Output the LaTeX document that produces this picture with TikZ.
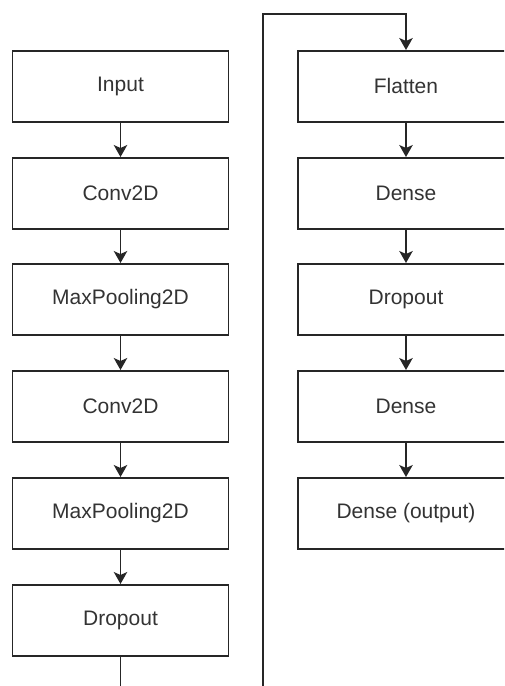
\documentclass[tikz,border=0pt]{standalone}
\usepackage{fontspec}
\setmainfont{Liberation Sans}
\usetikzlibrary{arrows.meta}
\begin{document}
\begin{tikzpicture}[x=1pt,y=-1pt,
  layer/.style={draw=black!85, line width=1.5pt, minimum width=216pt, minimum height=71pt,
    inner sep=0pt, anchor=north, font=\fontsize{21}{24}\selectfont, text=black!80},
  flow/.style={draw=black!85, line width=1.5pt,
    -{Stealth[length=12pt,width=13.5pt,inset=3pt]}}]
\useasboundingbox (0,0) rectangle (504,686);
\clip (0,0) rectangle (504,686);
% encoder column
\node[layer] (in)  at (120.5,50)  {Input};
\node[layer] (c1)  at (120.5,157) {Conv2D};
\node[layer] (p1)  at (120.5,263) {MaxPooling2D};
\node[layer] (c2)  at (120.5,370) {Conv2D};
\node[layer] (p2)  at (120.5,477) {MaxPooling2D};
\node[layer] (d1)  at (120.5,584) {Dropout};
% classifier column
\node[layer] (fl)  at (406,50)  {Flatten};
\node[layer] (de1) at (406,157) {Dense};
\node[layer] (d2)  at (406,263) {Dropout};
\node[layer] (de2) at (406,370) {Dense};
\node[layer] (out) at (406,477) {Dense (output)};
% routing points for the wrap-around connector
\coordinate (wa) at (120.5,720);
\coordinate (wb) at (263,720);
\coordinate (wc) at (263,14);
\coordinate (wd) at (406,14);
\draw[flow] (in) -- (c1);
\draw[flow] (c1) -- (p1);
\draw[flow] (p1) -- (c2);
\draw[flow] (c2) -- (p2);
\draw[flow] (p2) -- (d1);
\draw[flow] (d1.south) -- (wa) -- (wb) -- (wc) -- (wd) -- (fl.north);
\draw[flow] (fl) -- (de1);
\draw[flow] (de1) -- (d2);
\draw[flow] (d2) -- (de2);
\draw[flow] (de2) -- (out);
\end{tikzpicture}
\end{document}
